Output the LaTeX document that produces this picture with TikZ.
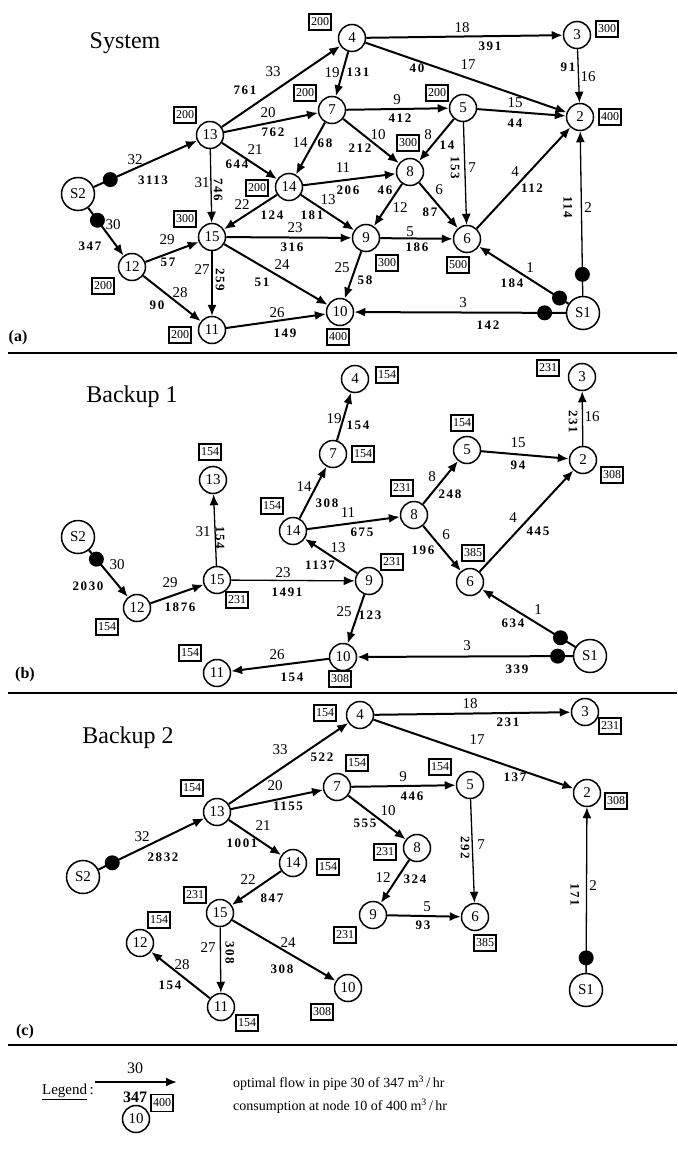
\documentclass[tikz,border=0pt]{standalone}
\usepackage{fontspec}
\setmainfont{Liberation Serif}
\newfontfamily\flowfont{Liberation Serif}[LetterSpace=12]
\usetikzlibrary{arrows.meta}
\newcommand{\fsz}[1]{\fontsize{#1}{#1}\selectfont}
\newcommand{\pipelab}[6]{\node[pn] (#1p#2) at (#3) {#2};\node[#4] (#1f#2) at (#5) {#6};}
\newcommand{\consbox}[3]{\node[bx] (#1b) at (#2) {#3};}
\begin{document}
\begin{tikzpicture}[x=1pt,y=-1pt,
 nd/.style={circle,draw,line width=1.5pt,minimum size=27pt,inner sep=0pt,font=\fsz{15}},
 src/.style={nd,minimum size=33pt},
 bx/.style={draw,line width=1.5pt,inner sep=1pt,minimum width=22pt,minimum height=16pt,font=\fsz{12}},
 pp/.style={line width=2pt,-{Latex[length=11pt,width=9pt]}},
 ppt/.style={pp,line width=1.3pt},
 pn/.style={font=\fsz{15},inner sep=0pt},
 fl/.style={font=\flowfont\bfseries\fsz{13},inner sep=0pt},
 flr/.style={fl,rotate=-90},
 valve/.style={circle,fill,minimum size=15pt,inner sep=0pt},
 ttl/.style={font=\fsz{24}},
 plab/.style={font=\bfseries\fsz{16}},
 sep/.style={line width=2pt}
]
\useasboundingbox (0,0) rectangle (677,1155);
\fill[white] (0,0) rectangle (677,1155);

% ---------------- Panel (a) ----------------
\node[ttl] (ttla) at (125,43) {System};
\node[plab] (laba) at (18,338) {(a)};
\coordinate (sepa1) at (8,353); \coordinate (sepa2) at (677,353);
\draw[sep] (sepa1) -- (sepa2);

\node[nd] (a4) at (352,38) {4};
\node[nd] (a3) at (577,35) {3};
\node[nd] (a2) at (580,117) {2};
\node[nd] (a5) at (463,108) {5};
\node[nd] (a7) at (332,110) {7};
\node[nd] (a13) at (210,135) {13};
\node[nd] (a8) at (410,172) {8};
\node[nd] (a14) at (289,187) {14};
\node[nd] (a15) at (212,237) {15};
\node[nd] (a9) at (366,238) {9};
\node[nd] (a6) at (467,239) {6};
\node[nd] (a10) at (340,312) {10};
\node[nd] (a11) at (212,330) {11};
\node[nd] (a12) at (132,267) {12};
\node[src] (aS2) at (78,194) {S2};
\node[src] (aS1) at (583,313) {S1};

\draw[pp] (aS2) -- node[valve,pos=0.16] (va32) {} (a13);
\draw[pp] (a13) -- (a4);
\draw[pp] (a13) -- (a7);
\draw[pp] (a13) -- (a14);
\draw[ppt] (a13) -- (a15);
\draw[pp] (a4) -- (a7);
\draw[pp] (a4) -- (a3);
\draw[pp] (a4) -- (a2);
\draw[ppt] (a3) -- (a2);
\draw[pp] (a7) -- (a5);
\draw[pp] (a5) -- (a2);
\draw[pp] (a7) -- (a8);
\draw[pp] (a5) -- (a8);
\draw[ppt] (a5) -- (a6);
\draw[pp] (a6) -- (a2);
\draw[ppt] (aS1) -- node[valve,pos=0.13] (va2) {} (a2);
\draw[pp] (a7) -- (a14);
\draw[pp] (a14) -- (a8);
\draw[pp] (a14) -- (a9);
\draw[pp] (a14) -- (a15);
\draw[pp] (a15) -- (a9);
\draw[pp] (a8) -- (a9);
\draw[pp] (a8) -- (a6);
\draw[pp] (a9) -- (a6);
\draw[pp] (a9) -- (a10);
\draw[pp] (a15) -- (a10);
\draw[ppt] (a15) -- (a11);
\draw[pp] (a12) -- (a15);
\draw[pp] (a12) -- (a11);
\draw[pp] (a11) -- (a10);
\draw[pp] (aS2) -- node[valve,pos=0.26] (va30) {} (a12);
\draw[pp] (aS1) -- node[valve,pos=0.1] (va1) {} (a6);
\draw[pp] (aS1) -- node[valve,pos=0.1] (va3) {} (a10);

\pipelab{a}{32}{135,160}{fl}{153,180}{3113}
\pipelab{a}{33}{273,72}{fl}{245,90}{761}
\pipelab{a}{20}{268,113}{fl}{273,132}{762}
\pipelab{a}{21}{255,150}{fl}{237,164}{644}
\pipelab{a}{31}{202,183}{flr}{218,190}{746}
\pipelab{a}{19}{332,73}{fl}{358,72}{131}
\pipelab{a}{18}{462,28}{fl}{490,46}{391}
\pipelab{a}{17}{468,65}{fl}{417,68}{40}
\pipelab{a}{16}{588,77}{fl}{568,67}{91}
\pipelab{a}{9}{397,100}{fl}{400,118}{412}
\pipelab{a}{15}{515,103}{fl}{515,123}{44}
\pipelab{a}{10}{378,135}{fl}{360,148}{212}
\pipelab{a}{8}{428,135}{fl}{447,145}{14}
\pipelab{a}{7}{472,168}{flr}{455,168}{153}
\pipelab{a}{4}{515,172}{fl}{532,188}{112}
\pipelab{a}{2}{588,208}{flr}{568,207}{114}
\pipelab{a}{14}{300,143}{fl}{325,143}{68}
\pipelab{a}{11}{343,168}{fl}{348,190}{206}
\pipelab{a}{13}{328,200}{fl}{312,215}{181}
\pipelab{a}{22}{242,205}{fl}{272,215}{124}
\pipelab{a}{23}{295,228}{fl}{292,247}{316}
\pipelab{a}{12}{400,208}{fl}{385,190}{46}
\pipelab{a}{6}{439,190}{fl}{430,212}{87}
\pipelab{a}{5}{410,232}{fl}{417,247}{186}
\pipelab{a}{25}{342,268}{fl}{365,280}{58}
\pipelab{a}{24}{282,265}{fl}{262,282}{51}
\pipelab{a}{27}{202,270}{flr}{220,280}{259}
\pipelab{a}{29}{167,240}{fl}{168,262}{57}
\pipelab{a}{28}{180,293}{fl}{157,305}{90}
\pipelab{a}{26}{277,313}{fl}{285,333}{149}
\pipelab{a}{30}{113,225}{fl}{90,246}{347}
\pipelab{a}{1}{530,268}{fl}{512,283}{184}
\pipelab{a}{3}{463,303}{fl}{488,325}{142}

\consbox{a4}{320,22}{200}
\consbox{a7}{305,93}{200}
\consbox{a13}{185,115}{200}
\consbox{a14}{257,188}{200}
\consbox{a15}{185,219}{300}
\consbox{a12}{103,286}{200}
\consbox{a11}{180,335}{200}
\consbox{a10}{338,337}{400}
\consbox{a9}{387,263}{300}
\consbox{a6}{458,265}{500}
\consbox{a8}{408,143}{300}
\consbox{a5}{437,93}{200}
\consbox{a3}{607,29}{300}
\consbox{a2}{610,117}{400}

% ---------------- Panel (b) ----------------
\node[ttl] (ttlb) at (132,397) {Backup 1};
\node[plab] (labb) at (25,675) {(b)};
\coordinate (sepb1) at (8,693); \coordinate (sepb2) at (677,693);
\draw[sep] (sepb1) -- (sepb2);

\node[nd] (b4) at (355,379) {4};
\node[nd] (b3) at (582,377) {3};
\node[nd] (b2) at (583,460) {2};
\node[nd] (b5) at (467,450) {5};
\node[nd] (b7) at (333,454) {7};
\node[nd] (b13) at (213,480) {13};
\node[nd] (b8) at (414,515) {8};
\node[nd] (b14) at (293,531) {14};
\node[nd] (b15) at (217,580) {15};
\node[nd] (b9) at (369,581) {9};
\node[nd] (b6) at (470,582) {6};
\node[nd] (b10) at (343,657) {10};
\node[nd] (b11) at (217,673) {11};
\node[nd] (b12) at (137,608) {12};
\node[src] (bS2) at (78,537) {S2};
\node[src] (bS1) at (590,656) {S1};

\draw[pp] (bS2) -- node[valve,pos=0.19] (vb30) {} (b12);
\draw[pp] (b12) -- (b15);
\draw[ppt] (b15) -- (b13);
\draw[ppt] (b15) -- (b9);
\draw[pp] (b9) -- (b14);
\draw[pp] (b14) -- (b7);
\draw[pp] (b7) -- (b4);
\draw[pp] (b14) -- (b8);
\draw[pp] (b8) -- (b5);
\draw[pp] (b8) -- (b6);
\draw[pp] (b5) -- (b2);
\draw[ppt] (b2) -- (b3);
\draw[pp] (b6) -- (b2);
\draw[pp] (bS1) -- node[valve,pos=0.16] (vb1) {} (b6);
\draw[pp] (b9) -- (b10);
\draw[pp] (bS1) -- node[valve,pos=0.07] (vb3) {} (b10);
\draw[pp] (b10) -- (b11);

\pipelab{b}{30}{117,565}{fl}{88,586}{2030}
\pipelab{b}{29}{170,583}{fl}{180,607}{1876}
\pipelab{b}{31}{203,532}{flr}{220,538}{154}
\pipelab{b}{23}{283,573}{fl}{287,592}{1491}
\pipelab{b}{13}{338,548}{fl}{320,565}{1137}
\pipelab{b}{14}{304,487}{fl}{327,503}{308}
\pipelab{b}{19}{334,419}{fl}{358,425}{154}
\pipelab{b}{11}{348,513}{fl}{362,532}{675}
\pipelab{b}{8}{432,477}{fl}{450,494}{248}
\pipelab{b}{6}{446,535}{fl}{423,550}{196}
\pipelab{b}{15}{518,443}{fl}{518,465}{94}
\pipelab{b}{16}{592,417}{flr}{573,422}{231}
\pipelab{b}{4}{513,518}{fl}{538,531}{445}
\pipelab{b}{1}{538,610}{fl}{513,623}{634}
\pipelab{b}{25}{344,612}{fl}{370,615}{123}
\pipelab{b}{3}{467,646}{fl}{517,669}{339}
\pipelab{b}{26}{277,655}{fl}{292,677}{154}

\consbox{b4}{387,375}{154}
\consbox{b3}{548,368}{231}
\consbox{b13}{210,452}{154}
\consbox{b7}{363,454}{154}
\consbox{b14}{272,506}{154}
\consbox{b8}{402,488}{231}
\consbox{b5}{462,423}{154}
\consbox{b2}{612,475}{308}
\consbox{b9}{392,562}{231}
\consbox{b6}{473,553}{385}
\consbox{b15}{237,600}{231}
\consbox{b12}{107,627}{154}
\consbox{b11}{190,653}{154}
\consbox{b10}{340,679}{308}

% ---------------- Panel (c) ----------------
\node[ttl] (ttlc) at (128,738) {Backup 2};
\node[plab] (labc) at (25,1032) {(c)};
\coordinate (sepc1) at (8,1045); \coordinate (sepc2) at (677,1045);
\draw[sep] (sepc1) -- (sepc2);

\node[nd] (c4) at (360,715) {4};
\node[nd] (c3) at (585,712) {3};
\node[nd] (c2) at (587,793) {2};
\node[nd] (c7) at (337,787) {7};
\node[nd] (c5) at (470,785) {5};
\node[nd] (c8) at (417,848) {8};
\node[nd] (c9) at (373,915) {9};
\node[nd] (c6) at (475,917) {6};
\node[nd] (c10) at (348,988) {10};
\node[nd] (c13) at (217,812) {13};
\node[nd] (c14) at (293,863) {14};
\node[nd] (c15) at (220,913) {15};
\node[nd] (c12) at (140,943) {12};
\node[nd] (c11) at (221,1007) {11};
\node[src] (cS2) at (83,877) {S2};
\node[src] (cS1) at (586,990) {S1};

\draw[pp] (cS2) -- node[valve,pos=0.13] (vc32) {} (c13);
\draw[pp] (c13) -- (c4);
\draw[pp] (c13) -- (c7);
\draw[pp] (c13) -- (c14);
\draw[pp] (c14) -- (c15);
\draw[ppt] (c15) -- (c11);
\draw[pp] (c15) -- (c10);
\draw[pp] (c11) -- (c12);
\draw[pp] (c4) -- (c3);
\draw[pp] (c4) -- (c2);
\draw[pp] (c7) -- (c5);
\draw[pp] (c7) -- (c8);
\draw[ppt] (c5) -- (c6);
\draw[pp] (c8) -- (c9);
\draw[pp] (c9) -- (c6);
\draw[ppt] (cS1) -- node[valve,pos=0.09] (vc2) {} (c2);

\pipelab{c}{32}{142,837}{fl}{163,857}{2832}
\pipelab{c}{33}{280,750}{fl}{322,757}{522}
\pipelab{c}{20}{275,786}{fl}{288,806}{1155}
\pipelab{c}{21}{263,826}{fl}{242,843}{1001}
\pipelab{c}{22}{248,880}{fl}{272,898}{847}
\pipelab{c}{27}{208,948}{flr}{230,953}{308}
\pipelab{c}{24}{288,943}{fl}{282,969}{308}
\pipelab{c}{28}{182,965}{fl}{170,985}{154}
\pipelab{c}{18}{470,704}{fl}{508,722}{231}
\pipelab{c}{17}{477,740}{fl}{515,777}{137}
\pipelab{c}{9}{403,777}{fl}{412,796}{446}
\pipelab{c}{10}{388,811}{fl}{365,823}{555}
\pipelab{c}{7}{481,845}{flr}{465,848}{292}
\pipelab{c}{12}{383,878}{fl}{415,879}{324}
\pipelab{c}{5}{427,907}{fl}{423,925}{93}
\pipelab{c}{2}{593,886}{flr}{575,895}{171}

\consbox{c4}{325,713}{154}
\consbox{c3}{610,726}{231}
\consbox{c2}{616,801}{308}
\consbox{c7}{357,763}{154}
\consbox{c5}{440,767}{154}
\consbox{c8}{385,852}{231}
\consbox{c13}{192,788}{154}
\consbox{c14}{328,867}{154}
\consbox{c15}{195,895}{231}
\consbox{c12}{159,920}{154}
\consbox{c11}{247,1023}{154}
\consbox{c10}{322,1012}{308}
\consbox{c9}{345,935}{231}
\consbox{c6}{485,943}{385}

% ---------------- Legend ----------------
\node[font=\fsz{15},anchor=east,inner sep=0pt] (leg) at (94,1092) {\underline{Legend}\,:};
\coordinate (legA) at (95,1082); \coordinate (legB) at (177,1082);
\draw[pp] (legA) -- (legB);
\node[font=\fsz{16},inner sep=0pt] (legp) at (135,1068) {30};
\node[font=\bfseries\fsz{16},inner sep=0pt] (legf) at (135,1097) {347};
\node[nd] (leg10) at (136,1119) {10};
\node[bx,minimum width=22pt,minimum height=17pt] (leg400) at (162,1103) {400};
\node[font=\fsz{14},anchor=west,inner sep=0pt] (legt1) at (233,1083) {optimal flow in pipe 30 of 347 m\textsuperscript{3}\,{\Large /}\,hr};
\node[font=\fsz{14},anchor=west,inner sep=0pt] (legt2) at (233,1106) {consumption at node 10 of 400 m\textsuperscript{3}\,{\Large /}\,hr};
\end{tikzpicture}
\end{document}
